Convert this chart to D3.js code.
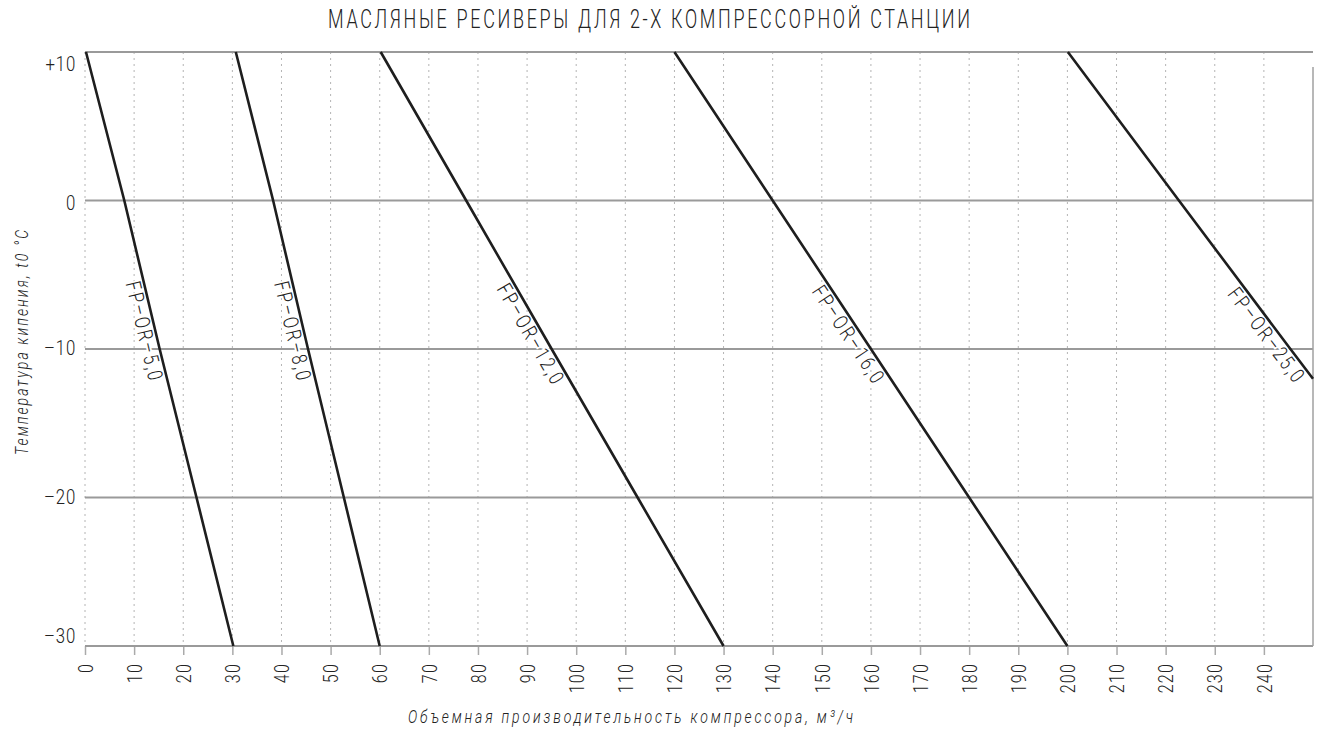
<!DOCTYPE html>
<html>
<head>
<meta charset="utf-8">
<script src="https://cdn.jsdelivr.net/npm/d3@7"></script>
<style>
  html, body { margin: 0; padding: 0; background: #fff; }
  svg { display: block; }
  text { font-family: Roboto, "Liberation Sans", Arial, sans-serif; font-weight: 300; fill: #222; }
</style>
</head>
<body>
<svg id="chart" width="1322" height="732"></svg>
<script>
// ---- data ----
const title = "МАСЛЯНЫЕ РЕСИВЕРЫ ДЛЯ 2-Х КОМПРЕССОРНОЙ СТАНЦИИ";
const xTitle = "Объемная производительность компрессора, м³/ч";
const yTitle = "Температура кипения, t0 °С";
const xTicks = [0,10,20,30,40,50,60,70,80,90,100,110,120,130,140,150,160,170,180,190,200,210,220,230,240];
const yTicks = [10, 0, -10, -20, -30];
const yTickLabels = ["+10", "0", "–10", "–20", "–30"];
const seriesNames = ["FP–OR–5,0", "FP–OR–8,0", "FP–OR–12,0", "FP–OR–16,0", "FP–OR–25,0"];
// [volume m3/h, temperature °C]
const fp5  = [[0.2, 10], [8.0, 0], [15.2, -10], [22.7, -20], [30.2, -30]];
const fp8  = [[30.7, 10], [38.3, 0], [45.4, -10], [52.7, -20], [60.0, -30]];
const fp12 = [[60.2, 10], [77.6, 0], [95.0, -10], [112.5, -20], [130.0, -30]];
const fp16 = [[120.0, 10], [140.0, 0], [160.0, -10], [180.0, -20], [200.0, -30]];
const fp25 = [[200.1, 10], [222.7, 0], [245.4, -10], [250.0, -12.0]];
const seriesData = [fp5, fp8, fp12, fp16, fp25];

// ---- layout ----
const svg = d3.select("#chart");
const pLeft = 85, pRight = 1313, pTop = 52, pBottom = 646;
const x = d3.scaleLinear().domain([0, 250]).range([pLeft, pRight]);
const y = d3.scaleLinear().domain([-30, 10]).range([pBottom, pTop]);

// narrow, letter-spaced text (drawing-standard look): glyphs condensed by sx,
// spacing stretched to reach the target length
function narrowText(parent, str, transform, sx, len, size, italic) {
  const g = parent.append("g").attr("transform", `${transform} scale(${sx},1)`);
  const t = g.append("text")
    .attr("x", 0).attr("y", 0)
    .style("font-size", size + "px")
    .text(str);
  if (italic) t.style("font-style", "italic");
  if (len) t.attr("textLength", len / sx).attr("lengthAdjust", "spacing");
  return t;
}

// title
narrowText(svg, title, "translate(328,28)", 0.72, 642, 25, false);

// vertical dotted grid
svg.append("g").selectAll("line").data(xTicks).join("line")
  .attr("x1", d => x(d)).attr("x2", d => x(d))
  .attr("y1", pTop).attr("y2", pBottom)
  .attr("stroke", "#b4b4b4").attr("stroke-width", 1)
  .attr("stroke-dasharray", "2,4");

// bottom axis ticks + labels
const xAxis = d3.axisBottom(x).tickValues(xTicks).tickSize(9).tickFormat(d3.format("d"));
const gx = svg.append("g").attr("transform", `translate(0,${pBottom})`).call(xAxis);
gx.select(".domain").remove();
gx.selectAll(".tick line").attr("stroke", "#aaa").attr("stroke-width", 1.5);
gx.selectAll(".tick text")
  .attr("transform", "rotate(-90) scale(0.8,1)")
  .attr("x", -17 / 0.8).attr("y", 0).attr("dy", "0.36em")
  .attr("text-anchor", "end")
  .attr("font-family", null).attr("font-size", null)
  .style("font-size", "20px").style("letter-spacing", "1.5px")
  .attr("fill", "#222");

// horizontal solid grid
svg.append("g").selectAll("line").data(yTicks).join("line")
  .attr("x1", pLeft).attr("x2", pRight)
  .attr("y1", d => y(d)).attr("y2", d => y(d))
  .attr("stroke", "#9a9a9a").attr("stroke-width", 2);

// right border
svg.append("line")
  .attr("x1", pRight).attr("x2", pRight)
  .attr("y1", pTop + 15).attr("y2", pBottom)
  .attr("stroke", "#a0a0a0").attr("stroke-width", 1.5);

// y labels
const yAxis = d3.axisLeft(y).tickValues(yTicks).tickSize(0)
  .tickFormat((d, i) => yTickLabels[i]);
const gy = svg.append("g").attr("transform", `translate(${pLeft},0)`).call(yAxis);
gy.select(".domain").remove();
gy.selectAll(".tick text")
  .attr("x", 0)
  .attr("transform", d => `translate(-9,${d === 10 ? 11 : (d === -30 ? -11 : (d === 0 ? 1 : -2))}) scale(0.8,1)`)
  .attr("dy", "0.36em")
  .attr("font-family", null).attr("font-size", null)
  .style("font-size", "21px").style("letter-spacing", "1px")
  .attr("fill", "#222");

// axis titles
narrowText(svg, xTitle, "translate(408,723)", 0.78, 445, 18, true);
narrowText(svg, yTitle, "translate(28,455) rotate(-90)", 0.78, 225, 18, true);

// series labels (halo over grid)
const labelT = -8.6;
const labelLayer = svg.append("g");
seriesData.forEach((pts, i) => {
  const tx = d3.scaleLinear().domain(pts.map(p => p[1])).range(pts.map(p => p[0]));
  const px = x(tx(labelT)), py = y(labelT);
  const p2x = x(tx(labelT - 1)), p2y = y(labelT - 1);
  const ang = Math.atan2(p2y - py, p2x - px) * 180 / Math.PI;
  const name = seriesNames[i];
  const len = name.length * 11.2;
  narrowText(labelLayer, name,
      `translate(${px},${py}) rotate(${ang}) translate(${-len / 2},18)`, 0.78, len, 21, false)
    .attr("stroke", "#fff").attr("stroke-width", 4).attr("paint-order", "stroke");
});

// series lines
const line = d3.line().x(d => x(d[0])).y(d => y(d[1]));
svg.append("g").selectAll("path").data(seriesData).join("path")
  .attr("d", line)
  .attr("fill", "none")
  .attr("stroke", "#1e1e1e").attr("stroke-width", 2.6);
</script>
</body>
</html>
